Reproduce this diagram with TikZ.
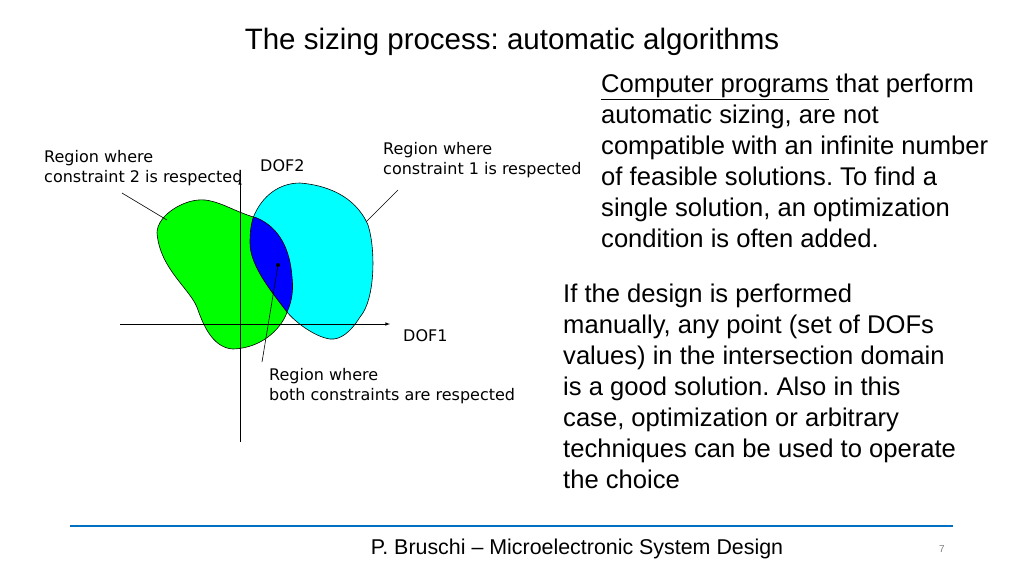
\documentclass[tikz,border=0pt]{standalone}
\usepackage{fontspec}
\setmainfont{Liberation Sans}
\newfontfamily\dejavu{DejaVu Sans}
\frenchspacing
\begin{document}
\begin{tikzpicture}[x=1pt,y=-1pt,
  lbl/.style={font=\dejavu\fontsize{16}{20}\selectfont,align=left,inner sep=0},
  para/.style={font=\fontsize{25.6}{31}\selectfont,align=left,inner sep=0,anchor=north west},
  thin/.style={draw=black,line width=0.6pt}]
\useasboundingbox (0,0) rectangle (1024,576);
\definecolor{cy}{rgb}{0,1,1}
\def\green{(157,233) .. controls (157,215) and (185,198) .. (205,200) .. controls (222,202) and (235,212) .. (257,218) .. controls (280,228) and (290,250) .. (292,277) .. controls (294,295) and (290,305) .. (287,312) .. controls (283,325) and (265,348) .. (233,349) .. controls (215,348) and (205,330) .. (198,310) .. controls (192,290) and (160,270) .. (157,233) -- cycle}
\def\cyan{(253,218) .. controls (262,195) and (280,183) .. (300,183) .. controls (325,185) and (355,195) .. (368,225) .. controls (376,250) and (375,300) .. (360,317) .. controls (350,333) and (340,340) .. (330,339) .. controls (315,337) and (295,322) .. (287,312) .. controls (270,290) and (250,265) .. (250,243) .. controls (250,232) and (251,225) .. (253,218) -- cycle}
\fill[fill=green] \green;
\fill[fill=cy] \cyan;
\begin{scope}\clip \green; \fill[blue] \cyan; \end{scope}
\draw[thin] \green; \draw[thin] \cyan;
\coordinate (vb) at (240,442); \coordinate (vt) at (240,180);
\coordinate (hl) at (120,324); \coordinate (hr) at (390,324);
\draw[thin,-latex] (vb) -- (vt);
\draw[thin,-latex] (hl) -- (hr);
\node[lbl,anchor=west] (d2) at (260,166) {DOF2};
\node[lbl,anchor=west] (d1) at (403,336) {DOF1};
\node[lbl,anchor=north west] (c2) at (44,150) {Region where\\constraint 2 is respected};
\node[lbl,anchor=north west] (c1) at (383,142) {Region where\\constraint 1 is respected};
\node[lbl,anchor=north west] (cb) at (269,368) {Region where\\both constraints are respected};
\fill (278,265) circle (2) coordinate (dot);
\coordinate (a1) at (122,193); \coordinate (a2) at (167,220);
\coordinate (b1) at (398,190); \coordinate (b2) at (366,222);
\coordinate (e1) at (262,362);
\draw[thin] (a1) -- (a2); \draw[thin] (b1) -- (b2); \draw[thin] (e1) -- (dot);
\node[font=\fontsize{29.5}{32}\selectfont,inner sep=0] (title) at (512,42) {The sizing process: automatic algorithms};
\node[para] (p1) at (601,74) {\underline{Computer programs} that perform\\automatic sizing, are not\\compatible with an infinite number\\of feasible solutions. To find a\\single solution, an optimization\\condition is often added.};
\node[para] (p2) at (563,284) {If the design is performed\\manually, any point (set of DOFs\\values) in the intersection domain\\is a good solution. Also in this\\case, optimization or arbitrary\\techniques can be used to operate\\the choice};
\coordinate (l1) at (70,526); \coordinate (l2) at (953,526);
\draw[line width=2.5pt,color={rgb,255:red,0;green,112;blue,192}] (l1) -- (l2);
\node[font=\fontsize{21.4}{24}\selectfont,inner sep=0] (foot) at (577,549) {P. Bruschi -- Microelectronic System Design};
\node[font=\fontsize{10}{12}\selectfont,text=gray,inner sep=0] (pg) at (942,549) {7};
\end{tikzpicture}
\end{document}
